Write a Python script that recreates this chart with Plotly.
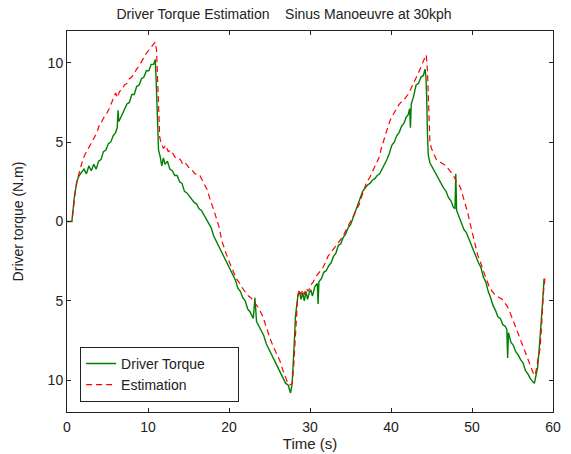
import plotly.graph_objects as go

# Driver torque (measured) - green
t_driver = [0.0, 0.6, 0.9, 1.2, 1.5, 1.8, 2.1, 2.4, 2.7, 3.0, 3.3, 3.6, 3.9, 4.2, 4.5, 4.8, 5.1, 5.4, 5.7, 6.0,
            6.2, 6.3, 6.4, 6.6, 6.8, 7.1, 7.4, 7.7, 8.0, 8.3, 8.6, 8.9, 9.2, 9.5, 9.8, 10.1, 10.4, 10.7, 10.9,
            11.0, 11.1, 11.2, 11.3, 11.5, 11.7, 11.9, 12.1, 12.4, 12.7, 13.0, 13.3, 13.6, 13.9, 14.2, 14.5,
            14.8, 15.1, 15.4, 15.7, 16.0, 16.3, 16.6, 16.9, 17.2, 17.5, 17.8, 18.1, 18.4, 18.7, 19.0, 19.3,
            19.6, 19.9, 20.2, 20.5, 20.8, 21.1, 21.4, 21.7, 22.0, 22.3, 22.6, 23.0, 23.2, 23.4, 23.7, 24.0,
            24.3, 24.6, 24.9, 25.2, 25.5, 25.8, 26.1, 26.4, 26.7, 27.0, 27.3, 27.6, 27.8, 28.0, 28.1, 28.2,
            28.35, 28.5, 28.7, 28.9, 29.1, 29.3, 29.5, 29.7, 29.9, 30.1, 30.3, 30.6, 30.9, 31.0, 31.1, 31.4,
            31.7, 32.0, 32.3, 32.6, 32.9, 33.2, 33.5, 33.8, 34.1, 34.4, 34.7, 35.0, 35.3, 35.6, 35.9, 36.2,
            36.5, 36.8, 37.1, 37.4, 37.7, 38.0, 38.3, 38.6, 38.9, 39.2, 39.5, 39.8, 40.1, 40.4, 40.7, 41.0,
            41.3, 41.6, 41.9, 42.1, 42.3, 42.4, 42.5, 42.8, 43.1, 43.4, 43.7, 44.0, 44.2, 44.3, 44.4, 44.5,
            44.6, 44.8, 45.0, 45.3, 45.6, 45.9, 46.2, 46.5, 46.8, 47.1, 47.4, 47.7, 47.9, 48.0, 48.1, 48.4,
            48.7, 49.0, 49.3, 49.6, 49.9, 50.2, 50.5, 50.8, 51.1, 51.4, 51.7, 52.0, 52.3, 52.6, 52.9, 53.2,
            53.5, 53.8, 54.1, 54.3, 54.4, 54.5, 54.8, 55.1, 55.4, 55.7, 56.0, 56.3, 56.6, 56.9, 57.2, 57.5,
            57.7, 57.9, 58.1, 58.3, 58.5, 58.7, 58.9]
v_driver = [0.0, 0.0, 1.5, 2.5, 2.9, 3.1, 3.3, 3.0, 3.5, 3.2, 3.6, 3.3, 3.8, 3.9, 4.4, 4.5, 4.9, 5.0, 5.4, 5.6,
            5.9, 7.0, 6.3, 6.5, 6.7, 7.0, 7.4, 7.5, 8.0, 8.0, 8.5, 8.6, 9.0, 9.1, 9.5, 9.5, 9.9, 9.9, 10.2,
            9.0, 7.5, 6.0, 4.5, 4.1, 3.5, 4.0, 3.6, 3.8, 3.3, 3.2, 2.9, 2.9, 2.5, 2.4, 1.9,
            1.8, 1.6, 1.4, 1.2, 1.1, 0.8, 0.7, 0.4, 0.2, -0.1, -0.4, -0.9, -1.2, -1.6, -1.8, -2.2,
            -2.4, -2.8, -3.0, -3.4, -3.7, -4.2, -4.4, -4.8, -5.0, -5.5, -5.7, -6.1, -4.8, -6.3, -6.6, -7.0,
            -7.2, -7.7, -8.0, -8.4, -8.6, -9.0, -9.2, -9.6, -9.8, -10.2, -10.3, -10.8, -10.2, -8.5, -7.2, -6.0,
            -5.1, -4.7, -4.4, -4.9, -4.5, -5.0, -4.4, -4.9, -4.5, -4.3, -4.7, -4.1, -3.9, -5.2, -3.8, -3.6,
            -3.2, -3.1, -2.8, -2.6, -2.2, -2.0, -1.5, -1.4, -1.0, -0.8, -0.4, -0.2, 0.2, 0.6, 1.1, 1.5,
            1.9, 2.1, 2.3, 2.4, 2.6, 2.7, 2.9, 3.0, 3.3, 3.5, 3.9, 4.3, 4.8, 5.0, 5.4, 5.6,
            6.0, 6.2, 6.6, 6.7, 7.1, 5.9, 7.4, 7.9, 8.6, 8.7, 9.1, 9.2, 9.6, 9.2, 8.0, 5.5,
            4.2, 3.7, 3.5, 3.2, 3.0, 2.6, 2.4, 2.1, 1.9, 1.5, 1.3, 0.9, 0.8, 3.0, 0.7, 0.3,
            0.0, -0.5, -0.7, -1.1, -1.4, -1.9, -2.2, -2.6, -2.9, -3.5, -3.8, -4.4, -4.8, -5.3, -5.6, -6.0,
            -6.1, -6.5, -6.6, -6.8, -8.6, -7.0, -7.6, -7.8, -8.2, -8.4, -8.7, -8.9, -9.4, -9.6, -9.9, -10.1,
            -10.2, -9.7, -9.2, -8.0, -6.8, -5.2, -3.6]

# Estimation - red dashed
t_est = [0.0, 0.6, 0.9, 1.0, 1.3, 1.6, 1.9, 2.2, 2.5, 2.8, 3.1, 3.4, 3.7, 4.0, 4.3, 4.6, 4.9, 5.2, 5.5, 5.8,
         6.0, 6.2, 6.5, 6.8, 7.1, 7.4, 7.7, 8.0, 8.3, 8.6, 8.9, 9.2, 9.5, 9.8, 10.1, 10.4, 10.7, 10.9, 11.05,
         11.2, 11.3, 11.45, 11.6, 11.9, 12.2, 12.5, 12.8, 13.1, 13.4, 13.7, 14.0, 14.3, 14.6, 14.9, 15.2,
         15.5, 15.8, 16.1, 16.4, 16.7, 17.0, 17.3, 17.6, 17.9, 18.2, 18.5, 18.8, 19.1, 19.4, 19.7, 20.0,
         20.3, 20.6, 20.9, 21.2, 21.5, 21.8, 22.1, 22.4, 22.7, 23.0, 23.3, 23.6, 23.9, 24.2, 24.5, 24.8,
         25.1, 25.4, 25.7, 26.0, 26.3, 26.6, 26.9, 27.2, 27.5, 27.8, 28.0, 28.15, 28.3, 28.5, 28.7, 28.9,
         29.1, 29.3, 29.5, 29.8, 30.1, 30.4, 30.7, 31.0, 31.3, 31.6, 31.9, 32.2, 32.5, 32.8, 33.1, 33.4,
         33.7, 34.0, 34.3, 34.6, 34.9, 35.2, 35.5, 35.8, 36.1, 36.4, 36.7, 37.0, 37.3, 37.6, 37.9, 38.2,
         38.5, 38.8, 39.1, 39.4, 39.7, 40.0, 40.3, 40.6, 40.9, 41.2, 41.5, 41.8, 42.1, 42.4, 42.7, 43.0,
         43.3, 43.6, 43.9, 44.2, 44.35, 44.5, 44.65, 44.8, 45.0, 45.3, 45.6, 45.9, 46.2, 46.5, 46.8, 47.1,
         47.4, 47.7, 48.0, 48.3, 48.6, 48.9, 49.2, 49.5, 49.8, 50.1, 50.4, 50.7, 51.0, 51.3, 51.6, 51.9,
         52.2, 52.5, 52.8, 53.1, 53.4, 53.7, 54.0, 54.3, 54.6, 54.9, 55.2, 55.5, 55.8, 56.1, 56.4, 56.7,
         57.0, 57.3, 57.6, 57.8, 58.0, 58.2, 58.4, 58.6, 58.8, 59.0]
v_est = [0.0, 0.0, 1.3, 1.8, 2.7, 3.3, 3.8, 4.2, 4.5, 4.8, 5.0, 5.3, 5.6, 6.1, 6.3, 6.6, 6.8, 7.1, 7.5, 7.8,
         8.1, 7.8, 8.2, 8.3, 8.6, 8.7, 9.0, 9.1, 9.4, 9.6, 9.8, 10.1, 10.3, 10.6, 10.8, 11.0, 11.2, 11.3, 10.8,
         9.0, 7.0, 5.3, 5.0, 4.6, 4.8, 4.4, 4.5, 4.2, 4.0, 4.0, 3.9, 3.6, 3.7, 3.5, 3.3,
         3.2, 3.0, 3.0, 2.9, 2.6, 2.3, 2.0, 1.5, 1.1, 0.6, 0.1, -0.4, -1.2, -1.7, -2.1, -2.5,
         -2.9, -3.3, -3.6, -3.8, -4.1, -4.3, -4.5, -4.7, -4.8, -5.0, -5.2, -5.4, -5.7, -6.0, -6.5, -7.0,
         -7.4, -7.8, -8.1, -8.4, -8.8, -9.3, -9.7, -10.1, -10.3, -10.2, -9.0, -7.5, -5.8, -4.6, -4.3, -4.6,
         -4.3, -4.6, -4.2, -4.4, -4.0, -3.8, -3.5, -3.3, -3.1, -2.9, -2.6, -2.2, -2.0, -1.8, -1.6, -1.4,
         -1.2, -1.0, -0.7, -0.4, -0.2, 0.1, 0.4, 0.8, 1.1, 1.6, 2.1, 2.5, 2.7, 3.0, 3.3, 3.6,
         4.0, 4.6, 5.1, 5.7, 6.1, 6.5, 6.8, 7.1, 7.3, 7.5, 7.6, 7.8, 8.0, 8.3, 8.6, 9.0,
         9.3, 9.6, 10.0, 10.4, 10.5, 9.5, 7.0, 5.0, 4.6, 4.2, 3.9, 3.8, 3.7, 3.6, 3.5, 3.3,
         3.1, 2.9, 2.6, 2.4, 2.1, 1.6, 1.1, 0.5, -0.2, -0.9, -1.6, -2.1, -2.5, -3.0, -3.4, -3.8,
         -4.2, -4.4, -4.6, -4.7, -4.8, -4.9, -5.1, -5.3, -5.6, -6.0, -6.3, -6.7, -7.1, -7.5, -7.9, -8.4,
         -8.8, -9.2, -9.6, -9.7, -9.2, -8.6, -8.0, -6.5, -4.6, -3.6]

x_ticks = [0, 10, 20, 30, 40, 50, 60]
y_ticks = [-10, -5, 0, 5, 10]
y_tick_text = ["10", "5", "0", "5", "10"]
series_names = ["Driver Torque", "Estimation"]

FONT = "Liberation Sans, Arial, sans-serif"
TXT = "#222222"
PAD = "\u00a0" * 7  # widen legend box like the reference

fig = go.Figure()
fig.add_trace(go.Scatter(x=t_driver, y=v_driver, mode="lines", name=series_names[0] + PAD,
                         line=dict(color="#008000", width=1.4)))
fig.add_trace(go.Scatter(x=t_est, y=v_est, mode="lines", name=series_names[1],
                         line=dict(color="#ff0000", width=1.2, dash="6px,4px")))

axis_common = dict(showline=True, linecolor=TXT, linewidth=1, mirror="ticks",
                   ticks="inside", ticklen=4, tickcolor=TXT, showgrid=False, zeroline=False,
                   automargin=False,
                   tickfont=dict(family=FONT, size=14, color=TXT))

fig.update_layout(
    width=571, height=454,
    margin=dict(l=67, r=18, t=31, b=42),
    paper_bgcolor="white", plot_bgcolor="white",
    title=dict(text="Driver Torque Estimation    Sinus Manoeuvre at 30kph",
               x=0.4975, xanchor="center", y=0.969, yanchor="middle",
               font=dict(family=FONT, size=14, color=TXT)),
    xaxis=dict(range=[0, 60], tickvals=x_ticks, ticklabelstandoff=2,
               title=dict(text="Time (s)", standoff=0, font=dict(family=FONT, size=15, color=TXT)),
               **axis_common),
    yaxis=dict(range=[-12, 12], tickvals=y_ticks, ticktext=y_tick_text,
               title=dict(text="Driver torque (N.m)", standoff=20, font=dict(family=FONT, size=14, color=TXT)),
               **axis_common),
    legend=dict(x=0.027, y=0.171, xanchor="left", yanchor="top",
                bordercolor=TXT, borderwidth=1, bgcolor="white",
                font=dict(family=FONT, size=14, color=TXT),
                tracegroupgap=0),
    showlegend=True,
)

fig.write_html("out.html")
